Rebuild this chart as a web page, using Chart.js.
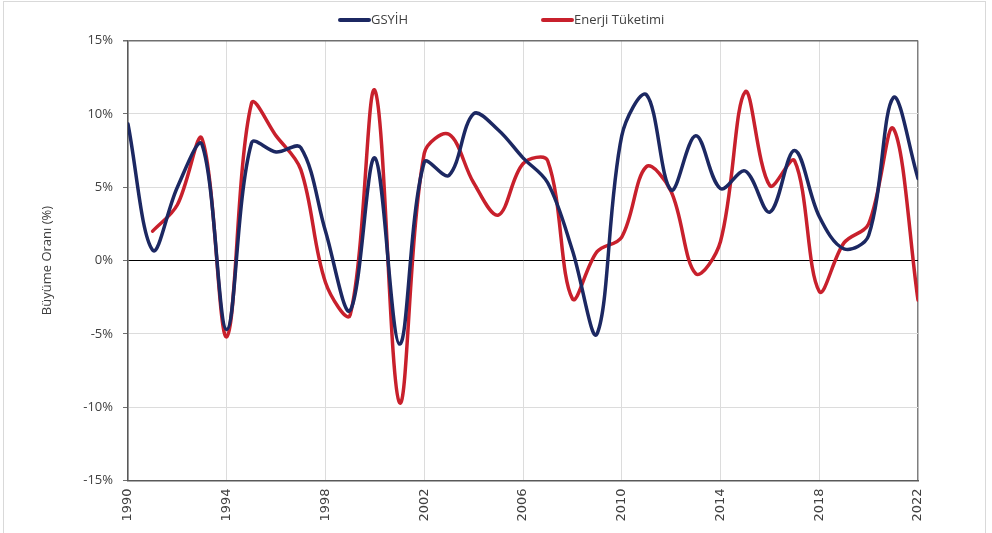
<!DOCTYPE html>
<html>
<head>
<meta charset="utf-8">
<script src="https://cdn.jsdelivr.net/npm/chart.js@4.4.1/dist/chart.umd.min.js"></script>
<style>
  html, body { margin: 0; padding: 0; background: #fff; }
  #wrap { position: relative; width: 992px; height: 533px; overflow: hidden; }
  #frame { position: absolute; left: 3px; top: 1px; width: 983px; height: 560px;
           border: 1px solid #d9d9d9; box-sizing: border-box; pointer-events: none; }
  canvas { display: block; }
</style>
</head>
<body>
<div id="wrap">
  <canvas id="chart" width="992" height="533" style="width:992px;height:533px"></canvas>
  <div id="frame"></div>
</div>
<script>
// Years on the horizontal axis
const years = [1990, 1991, 1992, 1993, 1994, 1995, 1996, 1997, 1998, 1999,
               2000, 2001, 2002, 2003, 2004, 2005, 2006, 2007, 2008, 2009,
               2010, 2011, 2012, 2013, 2014, 2015, 2016, 2017, 2018, 2019,
               2020, 2021, 2022];

// Annual growth rates (%)
const gsyih = [9.3, 0.7, 5.0, 7.9, -4.7, 8.0, 7.4, 7.7, 2.0, -3.4,
               7.0, -5.7, 6.7, 5.8, 10.0, 8.9, 7.0, 5.3, 0.7, -5.0,
               8.5, 11.3, 4.8, 8.5, 4.9, 6.1, 3.3, 7.5, 3.0, 0.8,
               1.7, 11.1, 5.6];

const enerji = [null, 2.0, 3.8, 8.3, -5.2, 10.7, 8.5, 6.2, -1.5, -3.7,
                11.6, -9.7, 7.3, 8.6, 5.3, 3.1, 6.6, 6.8, -2.6, 0.6,
                1.6, 6.4, 4.7, -0.9, 1.3, 11.5, 5.1, 6.8, -2.1, 1.2,
                2.5, 9.0, -2.7];

const seriesNames = ['GSYİH', 'Enerji Tüketimi'];
const yTicks = [-15, -10, -5, 0, 5, 10, 15];
const xTickStep = 4;
const axisTitle = 'Büyüme Oranı (%)';

const NAVY = '#1c2862';
const RED = '#c8202c';

const toPoints = vals => years.map((yr, i) => ({ x: yr, y: vals[i] }));

// Legend drawn as a single centred row above the plot
const topLegend = {
  id: 'topLegend',
  afterDraw(chart) {
    const ctx = chart.ctx;
    const slots = [338, 541];
    ctx.save();
    ctx.font = '13px "Open Sans"';
    ctx.textBaseline = 'middle';
    ctx.textAlign = 'left';
    chart.data.datasets.forEach((ds, i) => {
      const x = slots[i], y = 20;
      ctx.strokeStyle = ds.borderColor;
      ctx.lineWidth = 4;
      ctx.lineCap = 'round';
      ctx.beginPath();
      ctx.moveTo(x + 2, y);
      ctx.lineTo(x + 31, y);
      ctx.stroke();
      ctx.fillStyle = '#404040';
      ctx.fillText(ds.label, x + 33, y);
    });
    ctx.restore();
  }
};

new Chart(document.getElementById('chart'), {
  type: 'line',
  data: {
    datasets: [
      { label: seriesNames[0], data: toPoints(gsyih), borderColor: NAVY, backgroundColor: NAVY },
      { label: seriesNames[1], data: toPoints(enerji), borderColor: RED, backgroundColor: RED }
    ]
  },
  options: {
    responsive: false,
    animation: false,
    layout: { padding: { top: 40.5, right: 74, bottom: 0, left: 0 } },
    elements: {
      line: { borderWidth: 3.5, tension: 0.35, borderCapStyle: 'round', borderJoinStyle: 'round', fill: false },
      point: { radius: 0, hoverRadius: 0 }
    },
    plugins: { legend: { display: false }, tooltip: { enabled: false } },
    scales: {
      x: {
        type: 'linear',
        min: years[0],
        max: years[years.length - 1],
        afterBuildTicks(scale) {
          scale.ticks = years.filter(y => (y - years[0]) % xTickStep === 0).map(v => ({ value: v }));
        },
        ticks: {
          callback: v => String(v),
          maxRotation: 90,
          minRotation: 90,
          autoSkip: false,
          padding: 8,
          color: '#404040',
          font: { family: 'DejaVu Sans', size: 13 }
        },
        grid: {
          color: c => (c.tick && c.tick.value === years[years.length - 1]) ? '#7f7f7f' : '#dcdcdc',
          lineWidth: c => (c.tick && c.tick.value === years[years.length - 1]) ? 1.5 : 1,
          drawTicks: false
        },
        border: { color: '#595959', width: 1.5 },
        afterFit(scale) { scale.height = 52.5; }
      },
      y: {
        min: yTicks[0],
        max: yTicks[yTicks.length - 1],
        afterBuildTicks(scale) { scale.ticks = yTicks.map(v => ({ value: v })); },
        ticks: {
          callback: v => v + '%',
          padding: 10,
          color: '#404040',
          font: { family: 'Open Sans', size: 13 }
        },
        grid: {
          color: c => c.tick.value === 0 ? '#000000' : (c.tick.value === yTicks[yTicks.length - 1] ? '#6f6f6f' : '#dcdcdc'),
          lineWidth: c => c.tick.value === yTicks[yTicks.length - 1] ? 1.5 : 1,
          tickColor: '#6f6f6f',
          tickLength: 5
        },
        border: { color: '#595959', width: 1.5 },
        title: {
          display: true,
          text: axisTitle,
          color: '#404040',
          font: { family: 'Open Sans', size: 13 },
          padding: { top: 39, bottom: 0 }
        },
        afterFit(scale) { scale.width = 128; }
      }
    }
  },
  plugins: [topLegend]
});
</script>
</body>
</html>
